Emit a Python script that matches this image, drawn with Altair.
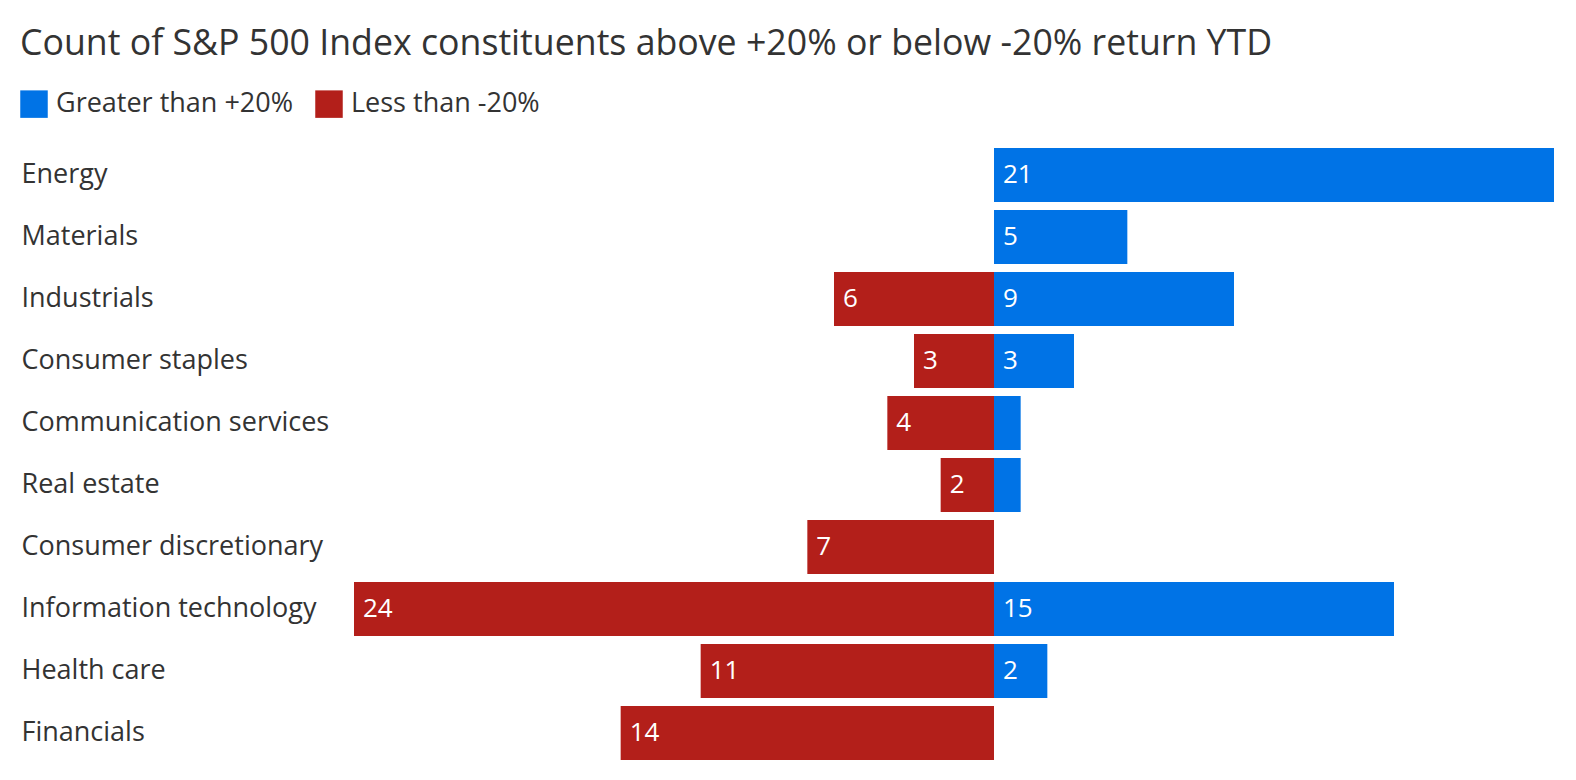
import altair as alt
import pandas as pd

categories = ["Energy", "Materials", "Industrials", "Consumer staples",
              "Communication services", "Real estate", "Consumer discretionary",
              "Information technology", "Health care", "Financials"]
greater = [21, 5, 9, 3, 1, 1, 0, 15, 2, 0]
less = [0, 0, 6, 3, 4, 2, 7, 24, 11, 14]
series_names = ["Greater than +20%", "Less than -20%"]
colors = ["#0073E6", "#B31F1A"]

rows = []
for c, g, l in zip(categories, greater, less):
    rows.append({"category": c, "series": series_names[0], "count": g, "value": g, "start": 0})
    rows.append({"category": c, "series": series_names[1], "count": l, "value": -l, "start": -l})
df = pd.DataFrame(rows)

FONT = "Open Sans"
TXT = "#333333"

y_enc = alt.Y("category:N", sort=categories,
              scale=alt.Scale(paddingInner=0.129, paddingOuter=0.0645),
              axis=alt.Axis(title=None, labelAlign="left", labelPadding=333, tickSize=0,
                            ticks=False, domain=False, labelFontSize=27, labelColor=TXT,
                            labelFont=FONT, labelLimit=0))
x_scale = alt.Scale(domain=[-24, 21], nice=False, zero=True)

bars = alt.Chart(df).mark_bar().encode(
    x=alt.X("value:Q", scale=x_scale, axis=None),
    x2=alt.X2("start0:Q"),
    y=y_enc,
    color=alt.Color("series:N", scale=alt.Scale(domain=series_names, range=colors),
                    legend=alt.Legend(title=None, orient="none", legendX=-334, legendY=-54,
                                      direction="horizontal", symbolType="square",
                                      symbolSize=756, symbolStrokeWidth=0, symbolOpacity=1,
                                      labelFontSize=27, labelFont=FONT, labelColor=TXT,
                                      labelLimit=0, columnPadding=21, labelOffset=8,
                                      symbolOffset=0)),
).transform_calculate(start0="0")

labels = alt.Chart(df).transform_filter("datum.count >= 2").mark_text(
    align="left", baseline="middle", dx=9, fontSize=26, font=FONT, color="white"
).encode(
    x=alt.X("start:Q", scale=x_scale),
    y=alt.Y("category:N", sort=categories),
    text="count:Q",
)

chart = alt.layer(bars, labels).properties(
    width=1200, height=620,
    title=alt.Title("Count of S&P 500 Index constituents above +20% or below -20% return YTD",
                    anchor="start", frame="bounds", fontSize=35.7, font=FONT,
                    fontWeight="normal", color=TXT, offset=27),
    autosize=alt.AutoSizeParams(type="none"),
    padding={"left": 346, "top": 136, "right": 0, "bottom": 0},
    background="white",
).configure_view(strokeWidth=0, stroke="transparent")

chart.save("out.html", embed_options={"renderer": "svg", "actions": False})
